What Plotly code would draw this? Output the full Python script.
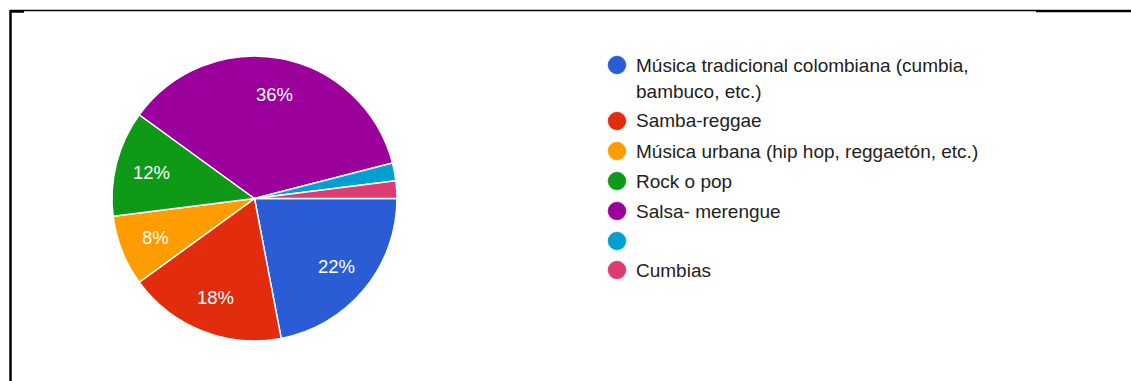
import math
import plotly.graph_objects as go

# Survey answers: preferred music genre
labels = [
    "Música tradicional colombiana (cumbia,<br>bambuco, etc.)",
    "Samba-reggae",
    "Música urbana (hip hop, reggaetón, etc.)",
    "Rock o pop",
    "Salsa- merengue",
    "",
    "Cumbias",
]
shares = [22, 18, 8, 12, 36, 2, 2]
colors = ["#2a5cd6", "#e22c0e", "#ff9d00", "#0e9a16", "#9c009c", "#00a0d0", "#de3b73"]
# slices below this share carry no label
min_labelled = 5

W, H = 1131, 381
FONT = "Liberation Sans, Arial, sans-serif"

# pie geometry in pixels
cx, cy, rad = 254.5, 198.5, 142.5
label_r = 0.745

fig = go.Figure()
fig.add_trace(go.Pie(
    labels=[f"s{i}" for i in range(len(shares))],
    values=shares,
    sort=False,
    direction="clockwise",
    rotation=90,
    marker=dict(colors=colors, line=dict(color="white", width=1.5)),
    textinfo="none",
    hoverinfo="skip",
    showlegend=False,
    domain=dict(x=[(cx - rad) / W, (cx + rad) / W],
                y=[1 - (cy + rad) / H, 1 - (cy - rad) / H]),
))

shapes = []
annotations = []

# Percentage labels at each slice's mid-angle
total = sum(shares)
acc = 0.0
for v in shares:
    mid = (acc + v / 2) / total * 2 * math.pi  # clockwise from 3 o'clock
    acc += v
    if v < min_labelled:
        continue
    px = cx + label_r * rad * math.cos(mid)
    py = cy + label_r * rad * math.sin(mid)
    annotations.append(dict(
        text=f"{round(v / total * 100)}%", xref="paper", yref="paper",
        x=px / W, y=1 - py / H, xanchor="center", yanchor="middle",
        showarrow=False, font=dict(size=18.5, color="white", family=FONT),
    ))

# Legend: circular swatches with labels on the right
legend_x = 617
legend_rows = [65, 121, 151, 181, 211, 241, 270]
line_gap = 27
for lab, col, yc in zip(labels, colors, legend_rows):
    r = 9
    shapes.append(dict(
        type="circle", xref="paper", yref="paper",
        x0=(legend_x - r) / W, x1=(legend_x + r) / W,
        y0=1 - (yc + r) / H, y1=1 - (yc - r) / H,
        fillcolor=col, line=dict(color=col, width=0.5),
    ))
    for k, part in enumerate(lab.split("<br>") if lab else []):
        annotations.append(dict(
            text=part, xref="paper", yref="paper",
            x=634 / W, y=1 - (yc + k * line_gap) / H,
            xanchor="left", yanchor="middle", align="left",
            showarrow=False,
            font=dict(size=19, color="#222222", family=FONT),
        ))

# Thin black frame lines along the top and left edges
shapes += [
    dict(type="line", xref="paper", yref="paper", x0=10 / W, x1=1036 / W,
         y0=1 - 10.5 / H, y1=1 - 10.5 / H, line=dict(color="black", width=1.5)),
    dict(type="line", xref="paper", yref="paper", x0=1036 / W, x1=1,
         y0=1 - 11 / H, y1=1 - 11 / H, line=dict(color="black", width=2.5)),
    dict(type="line", xref="paper", yref="paper", x0=10 / W, x1=24 / W,
         y0=1 - 11.5 / H, y1=1 - 11.5 / H, line=dict(color="black", width=2.5)),
    dict(type="line", xref="paper", yref="paper", x0=10.5 / W, x1=10.5 / W,
         y0=0, y1=1 - 10 / H, line=dict(color="black", width=2.5)),
]

fig.update_layout(
    width=W, height=H,
    margin=dict(l=0, r=0, t=0, b=0),
    paper_bgcolor="white",
    plot_bgcolor="white",
    shapes=shapes,
    annotations=annotations,
    font=dict(family=FONT),
)

fig.write_html("out.html")
